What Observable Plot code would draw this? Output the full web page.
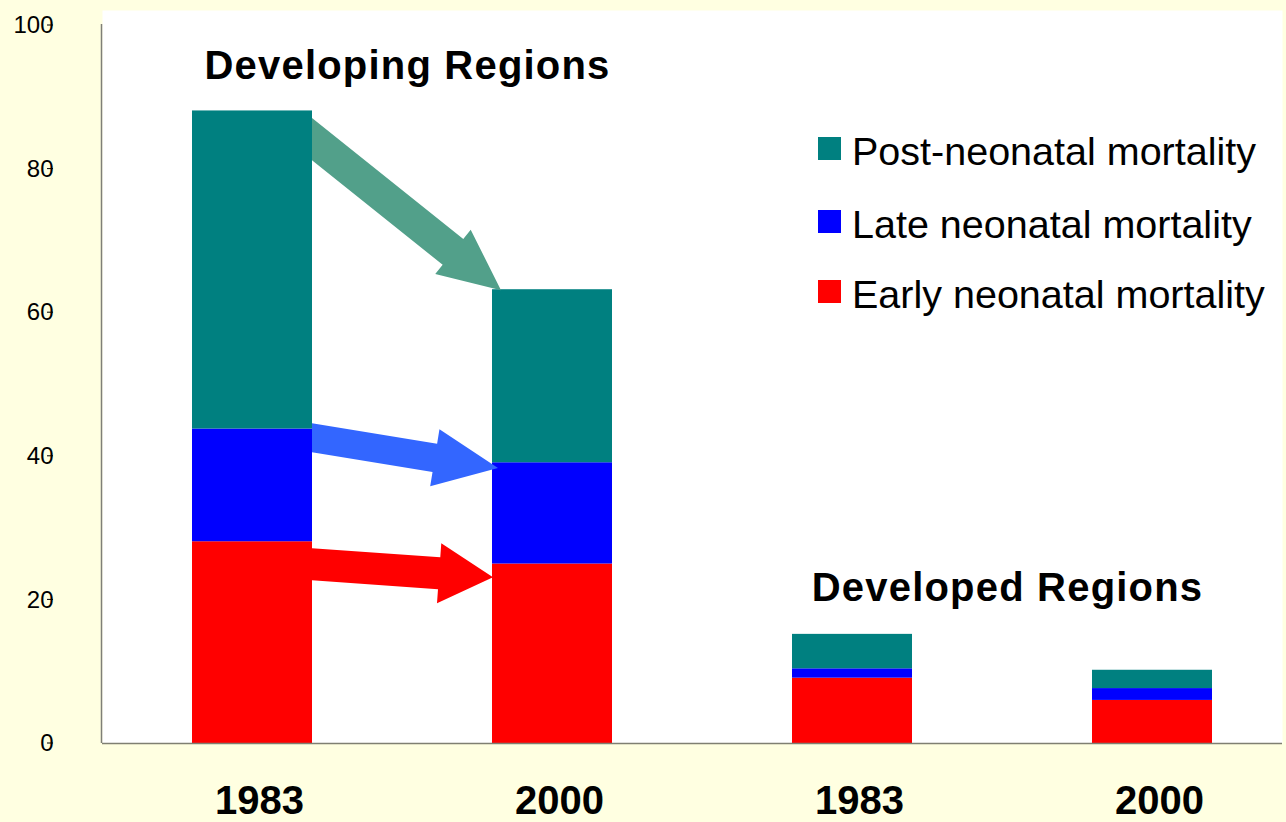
<!DOCTYPE html>
<html>
<head>
<meta charset="utf-8">
<script src="https://cdn.jsdelivr.net/npm/d3@7"></script>
<script src="https://cdn.jsdelivr.net/npm/@observablehq/plot@0.6"></script>
<style>
  html, body { margin: 0; padding: 0; background: #FFFFE1; }
  #chart { position: relative; width: 1286px; height: 822px; }
  #chart svg g.ylab text { font-size: 24px !important; font-variant-numeric: normal; }
  #chart svg g.xlab text { font-size: 40px; font-weight: bold; }
  #chart svg g.region-labels text { letter-spacing: 1.2px; }
</style>
</head>
<body>
<div id="chart"></div>
<script>
// ---- data ----
const barKeys = ["Developing 1983", "Developing 2000", "Developed 1983", "Developed 2000"];
const years = ["1983", "2000", "1983", "2000"];
const series = ["Early neonatal mortality", "Late neonatal mortality", "Post-neonatal mortality"];
const seriesColors = ["#FF0000", "#0000FF", "#008080"];
const early = [28.1, 25.0, 9.1, 6.0];
const late = [15.7, 14.1, 1.3, 1.65];
const post = [44.3, 24.1, 4.8, 2.55];
const yTicks = [0, 20, 40, 60, 80, 100];

// region annotations
const regionLabels = ["Developing Regions", "Developed Regions"];
const regionBars = ["Developing 1983", "Developed 1983"];
const regionY = [94.4, 21.7];

// arrows (Developing 1983 -> Developing 2000)
const arrowSeries = ["Post-neonatal mortality", "Late neonatal mortality", "Early neonatal mortality"];
const arrowColors = ["#52A08A", "#3366FF", "#FF0000"];
const arrowFromY = [84.1, 42.5, 24.9];
const arrowToY = [63.05, 38.3, 23.1];

// legend (top to bottom)
const legendItems = ["Post-neonatal mortality", "Late neonatal mortality", "Early neonatal mortality"];
const legendColors = ["#008080", "#0000FF", "#FF0000"];

// table for the stacked bars
const table = [];
barKeys.forEach((b, i) => {
  table.push({bar: b, series: series[0], value: early[i]});
  table.push({bar: b, series: series[1], value: late[i]});
  table.push({bar: b, series: series[2], value: post[i]});
});

const FONT = "'Liberation Sans', Arial, Helvetica, sans-serif";

function overlay(index, scales, values, dims) {
  const x = scales.x, y = scales.y;
  let bw = typeof x.bandwidth === "function" ? x.bandwidth() : x.bandwidth;
  if (bw == null && scales.scales && scales.scales.x) bw = scales.scales.x.bandwidth;
  const g = d3.create("svg:g");
  // y axis line
  g.append("line")
    .attr("x1", dims.marginLeft - 0.5).attr("x2", dims.marginLeft - 0.5)
    .attr("y1", y(100) - 1).attr("y2", y(0))
    .attr("stroke", "#7f7f78").attr("stroke-width", 1.5);
  // small tick marks that overlap the tick labels
  for (const t of yTicks) {
    g.append("line")
      .attr("x1", 47).attr("x2", 53).attr("y1", y(t)).attr("y2", y(t))
      .attr("stroke", "#000").attr("stroke-width", 1);
  }
  // arrows
  const shaft = [33, 28.6, 32];
  const headHalf = [28.4, 28.9, 30];
  const headLen = [61.5, 64, 54];
  const tipDx = [9, 6, 1];
  arrowSeries.forEach((s, i) => {
    const S = [x("Developing 1983") + bw, y(arrowFromY[i])];
    const E = [x("Developing 2000") + tipDx[i], y(arrowToY[i])];
    const dx = E[0] - S[0], dy = E[1] - S[1], L = Math.hypot(dx, dy);
    const ux = dx / L, uy = dy / L, nx = -uy, ny = ux;
    const sh = shaft[i] / 2, hw = headHalf[i], hl = headLen[i];
    const B = [E[0] - ux * hl, E[1] - uy * hl];
    const tailPt = (sgn) => {
      const px = S[0] + sgn * nx * sh, py = S[1] + sgn * ny * sh;
      const t = (S[0] - px) / ux;
      return [S[0], py + t * uy];
    };
    const pts = [
      tailPt(1),
      [B[0] + nx * sh, B[1] + ny * sh],
      [B[0] + nx * hw, B[1] + ny * hw],
      E,
      [B[0] - nx * hw, B[1] - ny * hw],
      [B[0] - nx * sh, B[1] - ny * sh],
      tailPt(-1)
    ];
    g.append("polygon")
      .attr("points", pts.map(p => p.join(",")).join(" "))
      .attr("fill", arrowColors[i]);
  });
  // legend
  const lg = g.append("g").attr("font-family", FONT).attr("text-anchor", "start");
  legendItems.forEach((name, i) => {
    const top = [137, 210, 280][i];
    lg.append("rect").attr("x", 818).attr("y", top).attr("width", 23).attr("height", 23)
      .attr("fill", legendColors[i]);
    lg.append("text").attr("x", 852).attr("y", [165, 238, 308][i])
      .attr("text-anchor", "start")
      .attr("font-size", 39.5).attr("fill", "#000").text(name);
  });
  return g.node();
}

const chart = Plot.plot({
  width: 1286,
  height: 822,
  marginLeft: 102,
  marginRight: 4,
  marginTop: 10,
  marginBottom: 79,
  style: {background: "#FFFFE1", fontFamily: FONT, color: "#000", overflow: "visible"},
  x: {domain: barKeys, range: [102, 1302], paddingInner: 0.6, paddingOuter: 0.3, label: null},
  y: {domain: [0, 100], range: [743, 25], label: null},
  color: {domain: series, range: seriesColors},
  marks: [
    Plot.frame({fill: "white", stroke: "none"}),
    Plot.barY(table, {x: "bar", y: "value", fill: "series", inset: 0}),
    Plot.ruleY([0], {stroke: "#7f7f72", strokeWidth: 1.5}),
    Plot.axisX({tickSize: 0, tickPadding: 42, fontSize: 40, fontWeight: "bold", dx: 7,
      tickFormat: d => years[barKeys.indexOf(d)], label: null}),
    Plot.axisY({ticks: yTicks, tickSize: 0, tickPadding: 49, fontSize: 24, label: null}),
    Plot.text(regionLabels, {x: (d, i) => regionBars[i], y: (d, i) => regionY[i], text: d => d,
      dx: 155, fontSize: 40, fontWeight: "bold", textAnchor: "middle", lineAnchor: "middle",
      fill: "#000"}),
    overlay
  ]
});

const svgSel = d3.select(chart);
svgSel.selectAll("g[aria-label='y-axis tick label']").classed("ylab", true)
  .attr("font-size", 24).selectAll("text").attr("font-size", 24);
svgSel.selectAll("g[aria-label='x-axis tick label']").classed("xlab", true);
svgSel.selectAll("g[aria-label='text']").classed("region-labels", true);
document.getElementById("chart").appendChild(chart);
</script>
</body>
</html>
